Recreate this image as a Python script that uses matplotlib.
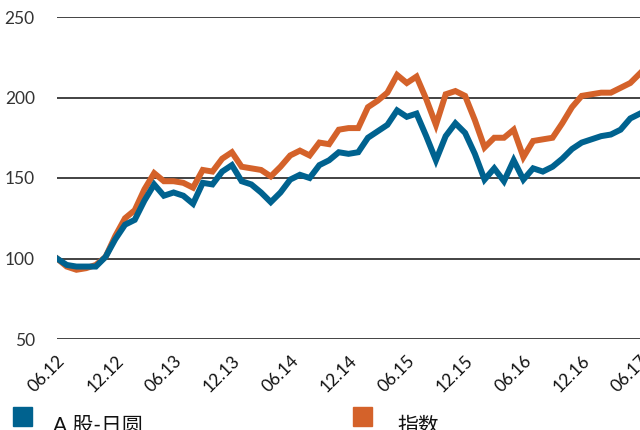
import numpy as np
import matplotlib.pyplot as plt
from matplotlib.patches import Rectangle

plt.rcParams['font.family'] = ['Lato', 'Noto Sans CJK SC', 'DejaVu Sans']

# monthly index values, 06.12 .. 06.17 (base 100)
a_share_jpy = [100, 96, 95, 95, 95, 101, 112, 121, 124, 136,
               146, 139, 141, 139, 134, 147, 146, 154, 158, 148,
               146, 141, 135, 141, 149, 152, 150, 158, 161, 166,
               165, 166, 175, 179, 183, 192, 188, 190, 176, 161,
               176, 184, 178, 165, 149, 156, 148, 161, 149, 156,
               154, 157, 162, 168, 172, 174, 176, 177, 180, 187, 190]
index_vals = [100, 95, 93, 94, 96, 101, 114, 125, 130, 143,
              153, 148, 148, 147, 144, 155, 154, 162, 166, 157,
              156, 155, 151, 157, 164, 167, 164, 172, 171, 180,
              181, 181, 194, 198, 203, 214, 209, 213, 199, 183,
              202, 204, 201, 186, 169, 175, 175, 180, 163, 173,
              174, 175, 184, 194, 201, 202, 203, 203, 206, 209, 215]
tick_labels = ['06.12', '12.12', '06.13', '12.13', '06.14', '12.14',
               '06.15', '12.15', '06.16', '12.16', '06.17']
legend_labels = ['A 股-日圆', '指数']

blue = '#00628f'
orange = '#d4622a'
text_col = '#333333'

fig = plt.figure(figsize=(6.4, 4.3), dpi=100)
ax = fig.add_axes([57 / 640, 1 - 339 / 430, 583 / 640, 322 / 430])

months = np.arange(len(a_share_jpy))
ax.plot(months, index_vals, color=orange, lw=4.3, solid_joinstyle='miter')
ax.plot(months, a_share_jpy, color=blue, lw=4.3, solid_joinstyle='miter')

ax.set_xlim(0, 60)
ax.set_ylim(50, 250)
ax.set_yticks([50, 100, 150, 200, 250])
ax.set_xticks(np.arange(0, 61, 6))
ax.set_xticklabels(tick_labels, rotation=45, ha='right', va='top',
                   rotation_mode='anchor')
ax.tick_params(axis='both', length=0, labelsize=12.5, colors=text_col)
ax.tick_params(axis='y', pad=16)
ax.tick_params(axis='x', pad=10)
for lab in ax.get_xticklabels():
    lab.set_color('#111111')

ax.grid(axis='y', color='#222222', lw=1.2)
ax.set_axisbelow(True)
for s in ax.spines.values():
    s.set_visible(False)

# legend along the bottom edge (runs off the bottom of the figure)
for (x0, col, lab, tx) in [(13, blue, legend_labels[0], 53),
                           (353, orange, legend_labels[1], 397)]:
    fig.patches.append(Rectangle((x0 / 640, 1 - 426 / 430), 19 / 640, 19 / 430,
                                 transform=fig.transFigure, color=col))
    fig.text(tx / 640, 1 - 432 / 430, lab, fontsize=15, color='#111111',
             va='baseline', ha='left')

fig.savefig('out.png', dpi=100)
